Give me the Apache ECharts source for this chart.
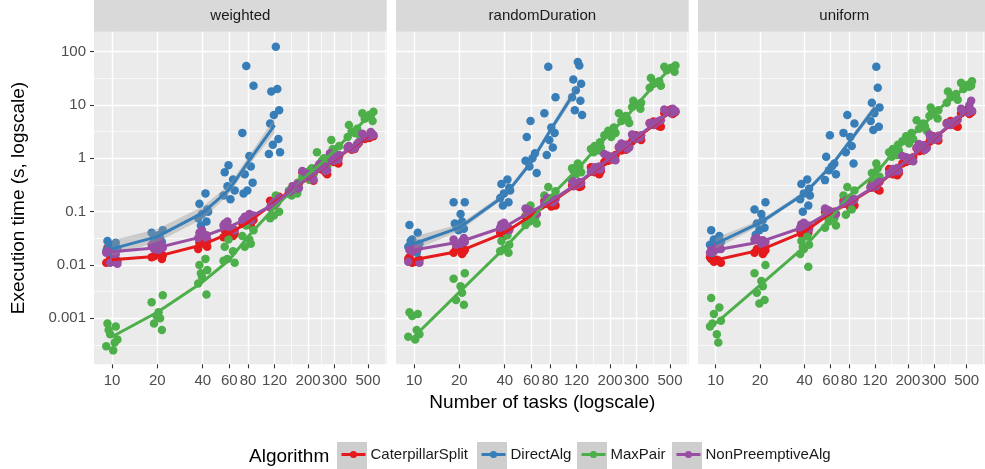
<!DOCTYPE html>
<html>
<head>
<meta charset="utf-8">
<script src="https://cdn.jsdelivr.net/npm/echarts@6/dist/echarts.min.js"></script>
<style>
html,body{margin:0;padding:0;background:#fff;}
#chart{width:985px;height:469px;}
</style>
</head>
<body>
<div id="chart"></div>
<script>
// ---------- categories / ticks ----------
const FACETS = ['weighted', 'randomDuration', 'uniform'];
const ALGOS = ['CaterpillarSplit', 'DirectAlg', 'MaxPair', 'NonPreemptiveAlg'];
const COLORS = ['#E41A1C', '#377EB8', '#4DAF4A', '#984EA3'];
const X_VALUES = [10, 20, 40, 60, 80, 120, 160, 200, 250, 300, 400, 500];
const DIRECT_X = [10, 20, 40, 60, 80, 120];
const X_TICKS = [10, 20, 40, 60, 80, 120, 200, 300, 500];
const X_MINOR = [154.9, 244.9, 387.3, 645.5];
const Y_TICKS = [0.001, 0.01, 0.1, 1, 10, 100];
const Y_TICK_LABELS = ['0.001', '0.01', '0.1', '1', '10', '100'];
const Y_MINOR = [0.000316, 0.00316, 0.0316, 0.316, 3.16, 31.6];
// fixed horizontal jitter pattern (log10 units)
const JITTER = [-0.03, 0.025, -0.012, 0.036, -0.038, 0.008, 0.018, -0.022, 0.03, -0.005];

// ---------- weighted ----------
const weighted_Caterpillar_fit = [0.0125, 0.0145, 0.024, 0.039, 0.063, 0.15, 0.27, 0.42, 0.65, 0.94, 1.67, 2.6];
const weighted_Caterpillar_pts = [
  [0.021, 0.019, 0.013, 0.012, 0.011, 0.0115, 0.013, 0.02],
  [0.015, 0.014, 0.016, 0.018, 0.0145, 0.013],
  [0.024, 0.026, 0.022, 0.028, 0.02, 0.025],
  [0.04, 0.045, 0.035, 0.05, 0.038, 0.033],
  [0.065, 0.07, 0.06, 0.08, 0.055, 0.062],
  [0.15, 0.17, 0.14, 0.19, 0.13, 0.16],
  [0.27, 0.3, 0.22, 0.33, 0.24, 0.35],
  [0.42, 0.5, 0.38, 0.55, 0.4, 0.6],
  [0.65, 0.7, 0.55, 0.75, 0.5, 0.62],
  [0.94, 1.1, 0.85, 1.2, 0.8, 1.0],
  [1.67, 1.8, 1.45, 1.95, 1.6, 1.5],
  [2.6, 2.8, 2.4, 3.0, 2.3, 2.7]
];
const weighted_Direct_fit = [0.02, 0.034, 0.095, 0.26, 0.85, 4.2];
const weighted_Direct_lo = [0.015, 0.027, 0.073, 0.215, 0.7, 3.0];
const weighted_Direct_hi = [0.029, 0.047, 0.125, 0.32, 1.05, 5.7];
const weighted_Direct_pts = [
  [0.028, 0.026, 0.024, 0.02, 0.018, 0.016, 0.014, 0.022],
  [0.045, 0.04, 0.036, 0.032, 0.03, 0.027, 0.025],
  [0.22, 0.14, 0.11, 0.09, 0.075, 0.065, 0.055, 0.1],
  [0.74, 0.55, 0.4, 0.3, 0.25, 0.2, 0.17],
  [54, 23, 3.0, 1.1, 0.7, 0.5, 0.35, 0.25, 0.22],
  [124, 20, 18, 8, 6.5, 4.5, 2.3, 1.8, 1.3, 1.2]
];
const weighted_MaxPair_fit = [0.00045, 0.0013, 0.0048, 0.0124, 0.034, 0.12, 0.26, 0.5, 0.85, 1.4, 3.2, 6.0];
const weighted_MaxPair_pts = [
  [0.0008, 0.0007, 0.0005, 0.0004, 0.0003, 0.00025, 0.00035, 0.0006],
  [0.0027, 0.002, 0.0013, 0.001, 0.0008, 0.0006, 0.0011],
  [0.013, 0.01, 0.008, 0.006, 0.0045, 0.0028, 0.007],
  [0.03, 0.022, 0.018, 0.013, 0.011, 0.012],
  [0.055, 0.045, 0.035, 0.03, 0.025, 0.022],
  [0.2, 0.15, 0.12, 0.1, 0.085, 0.075],
  [0.35, 0.3, 0.25, 0.22, 0.2, 0.28],
  [0.65, 0.55, 0.5, 0.45, 0.4, 0.6],
  [1.3, 1.0, 0.85, 0.75, 0.7, 0.9],
  [2.2, 1.7, 1.4, 1.2, 1.1, 1.5],
  [4.2, 3.6, 3.2, 2.8, 2.5, 3.0],
  [7.5, 7.0, 6.5, 6.0, 5.5, 5.0]
];
const weighted_NonPreemptive_fit = [0.0177, 0.021, 0.034, 0.052, 0.076, 0.14, 0.27, 0.43, 0.66, 0.97, 1.7, 2.75];
const weighted_NonPreemptive_pts = [
  [0.018, 0.016, 0.011, 0.0105, 0.017, 0.012],
  [0.021, 0.024, 0.019, 0.027, 0.02, 0.022],
  [0.034, 0.04, 0.03, 0.045, 0.032, 0.036],
  [0.052, 0.06, 0.048, 0.065, 0.045, 0.055],
  [0.076, 0.085, 0.07, 0.09, 0.068, 0.08],
  [0.14, 0.16, 0.13, 0.18, 0.15, 0.12],
  [0.27, 0.3, 0.23, 0.33, 0.25, 0.28],
  [0.43, 0.52, 0.4, 0.58, 0.45, 0.48],
  [0.66, 0.72, 0.58, 0.78, 0.6, 0.68],
  [0.97, 1.15, 0.9, 1.25, 0.95, 1.05],
  [1.7, 1.85, 1.5, 2.0, 1.6, 1.55],
  [2.75, 2.9, 2.6, 3.1, 2.5, 2.8]
];

// ---------- randomDuration ----------
const random_Caterpillar_fit = [0.0125, 0.018, 0.04, 0.085, 0.145, 0.32, 0.6, 1.0, 1.6, 2.4, 4.4, 7.5];
const random_Caterpillar_pts = [
  [0.014, 0.012, 0.011, 0.0125, 0.013, 0.0115],
  [0.019, 0.017, 0.021, 0.016, 0.02, 0.018],
  [0.042, 0.038, 0.046, 0.035, 0.04, 0.044],
  [0.087, 0.08, 0.095, 0.075, 0.09, 0.083],
  [0.145, 0.13, 0.16, 0.125, 0.15, 0.14],
  [0.32, 0.29, 0.36, 0.3, 0.34, 0.31],
  [0.6, 0.55, 0.68, 0.5, 0.62, 0.58],
  [1.0, 0.9, 1.15, 0.85, 1.05, 0.95],
  [1.6, 1.45, 1.8, 1.4, 1.7, 1.55],
  [2.4, 2.2, 2.7, 2.1, 2.5, 2.3],
  [4.4, 4.0, 4.9, 3.9, 4.6, 4.2],
  [7.5, 7.0, 8.3, 6.8, 7.8, 7.2]
];
const random_Direct_fit = [0.025, 0.05, 0.2, 0.85, 3.3, 20];
const random_Direct_lo = [0.019, 0.043, 0.18, 0.75, 2.9, 16];
const random_Direct_hi = [0.034, 0.058, 0.225, 0.97, 3.8, 25];
const random_Direct_pts = [
  [0.056, 0.04, 0.03, 0.025, 0.022, 0.02, 0.017, 0.028],
  [0.15, 0.15, 0.09, 0.065, 0.055, 0.048, 0.045, 0.06],
  [0.4, 0.33, 0.28, 0.22, 0.18, 0.15, 0.13, 0.25],
  [5, 2.5, 1.25, 0.7, 0.53, 0.9, 1.0],
  [52, 14, 7, 3.8, 1.6, 1.15, 3.0, 2.2],
  [64, 55, 30, 25, 19, 14, 12, 8, 6.5]
];
const random_MaxPair_fit = [0.00045, 0.0031, 0.021, 0.07, 0.19, 0.6, 1.5, 3, 5.5, 10, 25, 48];
const random_MaxPair_pts = [
  [0.0013, 0.0012, 0.0011, 0.0005, 0.00045, 0.0004, 0.0006],
  [0.007, 0.0055, 0.004, 0.003, 0.0022, 0.0018],
  [0.036, 0.028, 0.024, 0.02, 0.018, 0.017],
  [0.13, 0.09, 0.075, 0.065, 0.06, 0.056],
  [0.29, 0.24, 0.2, 0.18, 0.16, 0.15],
  [0.8, 0.7, 0.6, 0.55, 0.5, 0.65],
  [2.0, 1.7, 1.5, 1.4, 1.3, 1.6],
  [3.8, 3.3, 3.0, 2.7, 2.5, 3.1],
  [7, 6.2, 5.5, 5.0, 4.6, 5.8],
  [12, 11, 10, 9.2, 8.5, 10.5],
  [32, 28, 25, 23, 21, 26],
  [55, 52, 50, 48, 45, 42]
];
const random_NonPreemptive_fit = [0.019, 0.027, 0.052, 0.1, 0.155, 0.33, 0.62, 1.02, 1.65, 2.5, 4.6, 7.6];
const random_NonPreemptive_pts = [
  [0.019, 0.02, 0.018, 0.011, 0.0115, 0.021],
  [0.027, 0.03, 0.025, 0.028, 0.024, 0.032],
  [0.052, 0.058, 0.048, 0.062, 0.05, 0.045],
  [0.1, 0.11, 0.095, 0.105, 0.09, 0.115],
  [0.155, 0.17, 0.14, 0.16, 0.15, 0.18],
  [0.33, 0.36, 0.3, 0.35, 0.32, 0.38],
  [0.62, 0.68, 0.56, 0.7, 0.6, 0.65],
  [1.02, 1.12, 0.92, 1.2, 0.98, 1.08],
  [1.65, 1.8, 1.5, 1.9, 1.6, 1.75],
  [2.5, 2.7, 2.3, 2.8, 2.45, 2.6],
  [4.6, 5.0, 4.2, 5.2, 4.5, 4.8],
  [7.6, 8.2, 7.0, 8.5, 7.4, 7.9]
];

// ---------- uniform ----------
const uniform_Caterpillar_fit = [0.0124, 0.019, 0.042, 0.094, 0.146, 0.29, 0.56, 0.93, 1.55, 2.35, 4.5, 7.5];
const uniform_Caterpillar_pts = [
  [0.013, 0.012, 0.0115, 0.011, 0.014, 0.0125],
  [0.019, 0.017, 0.021, 0.016, 0.02, 0.018],
  [0.042, 0.038, 0.048, 0.035, 0.045, 0.04],
  [0.094, 0.085, 0.1, 0.08, 0.09, 0.098],
  [0.146, 0.13, 0.16, 0.12, 0.15, 0.14],
  [0.29, 0.26, 0.33, 0.25, 0.3, 0.28],
  [0.56, 0.5, 0.63, 0.48, 0.58, 0.53],
  [0.93, 0.85, 1.05, 0.8, 0.95, 0.9],
  [1.55, 1.4, 1.75, 1.35, 1.6, 1.5],
  [2.35, 2.15, 2.6, 2.05, 2.4, 2.25],
  [4.5, 4.1, 5.0, 3.9, 4.6, 4.3],
  [7.5, 7.0, 8.4, 6.8, 7.8, 7.2]
];
const uniform_Direct_fit = [0.025, 0.062, 0.22, 0.7, 2.0, 9];
const uniform_Direct_lo = [0.02, 0.055, 0.2, 0.63, 1.8, 7.5];
const uniform_Direct_hi = [0.032, 0.07, 0.245, 0.78, 2.25, 10.8];
const uniform_Direct_pts = [
  [0.045, 0.035, 0.03, 0.027, 0.024, 0.022, 0.02, 0.017],
  [0.15, 0.11, 0.09, 0.07, 0.06, 0.05, 0.045, 0.037],
  [0.4, 0.33, 0.27, 0.22, 0.17, 0.13, 0.1, 0.2],
  [2.7, 1.07, 0.8, 0.6, 0.5, 0.39, 0.7],
  [6.5, 4.5, 3.0, 2.5, 1.7, 1.3, 0.8],
  [52, 21, 11, 9, 7, 5, 3.9, 3.4]
];
const uniform_MaxPair_fit = [0.0008, 0.0042, 0.022, 0.075, 0.2, 0.5, 1.3, 2.3, 4.0, 6.8, 14, 22];
const uniform_MaxPair_pts = [
  [0.0024, 0.0016, 0.0012, 0.0009, 0.0007, 0.0005, 0.00035, 0.0008],
  [0.01, 0.007, 0.005, 0.004, 0.003, 0.0022, 0.0019],
  [0.034, 0.028, 0.024, 0.02, 0.016, 0.0093, 0.022],
  [0.1, 0.085, 0.075, 0.065, 0.055, 0.05],
  [0.29, 0.25, 0.2, 0.15, 0.11, 0.087],
  [0.8, 0.65, 0.53, 0.45, 0.38, 0.3],
  [1.8, 1.5, 1.3, 1.15, 1.07, 1.4],
  [3.0, 2.6, 2.3, 2.1, 1.9, 2.5],
  [5.2, 4.5, 4.0, 3.6, 3.3, 4.2],
  [9, 8, 7, 6.2, 5.6, 7.5],
  [18, 16, 14, 12.5, 11, 15],
  [28, 26, 24, 22, 20, 23]
];
const uniform_NonPreemptive_fit = [0.019, 0.027, 0.052, 0.1, 0.15, 0.3, 0.57, 0.95, 1.58, 2.4, 4.6, 7.8];
const uniform_NonPreemptive_pts = [
  [0.019, 0.021, 0.018, 0.02, 0.017, 0.022],
  [0.027, 0.03, 0.025, 0.029, 0.032, 0.026],
  [0.052, 0.058, 0.048, 0.062, 0.05, 0.055],
  [0.1, 0.11, 0.095, 0.105, 0.09, 0.115],
  [0.15, 0.17, 0.14, 0.18, 0.155, 0.16],
  [0.3, 0.34, 0.28, 0.36, 0.31, 0.29],
  [0.57, 0.63, 0.52, 0.66, 0.55, 0.6],
  [0.95, 1.05, 0.88, 1.1, 0.92, 1.0],
  [1.58, 1.75, 1.45, 1.85, 1.55, 1.65],
  [2.4, 2.65, 2.2, 2.8, 2.35, 2.5],
  [4.6, 5.0, 4.2, 5.3, 4.4, 4.8],
  [7.8, 8.5, 7.2, 10, 7.5, 12]
];

// ---------- assemble ----------
const DATA = {
  weighted: [
    {fit: weighted_Caterpillar_fit, pts: weighted_Caterpillar_pts, x: X_VALUES},
    {fit: weighted_Direct_fit, pts: weighted_Direct_pts, x: DIRECT_X, lo: weighted_Direct_lo, hi: weighted_Direct_hi},
    {fit: weighted_MaxPair_fit, pts: weighted_MaxPair_pts, x: X_VALUES},
    {fit: weighted_NonPreemptive_fit, pts: weighted_NonPreemptive_pts, x: X_VALUES}
  ],
  randomDuration: [
    {fit: random_Caterpillar_fit, pts: random_Caterpillar_pts, x: X_VALUES},
    {fit: random_Direct_fit, pts: random_Direct_pts, x: DIRECT_X, lo: random_Direct_lo, hi: random_Direct_hi},
    {fit: random_MaxPair_fit, pts: random_MaxPair_pts, x: X_VALUES},
    {fit: random_NonPreemptive_fit, pts: random_NonPreemptive_pts, x: X_VALUES}
  ],
  uniform: [
    {fit: uniform_Caterpillar_fit, pts: uniform_Caterpillar_pts, x: X_VALUES},
    {fit: uniform_Direct_fit, pts: uniform_Direct_pts, x: DIRECT_X, lo: uniform_Direct_lo, hi: uniform_Direct_hi},
    {fit: uniform_MaxPair_fit, pts: uniform_MaxPair_pts, x: X_VALUES},
    {fit: uniform_NonPreemptive_fit, pts: uniform_NonPreemptive_pts, x: X_VALUES}
  ]
};

const FONT = 'Liberation Sans, Arial, Helvetica, sans-serif';
const GRID_LEFTS = [94, 396, 698];
const GRID_W = 292.7, GRID_TOP = 31.7, GRID_H = 332.6;
const XMIN = 7.597, XMAX = 665;
const YMIN = 0.000137, YMAX = 237;

const chart = echarts.init(document.getElementById('chart'), null, {renderer: 'canvas'});

const grids = [], xAxes = [], yAxes = [], lineSeries = [], scatterSeries = [], bandSeries = [], graphics = [];

function yLabel(v) {
  const i = Y_TICKS.findIndex(t => Math.abs(Math.log10(t) - Math.log10(v)) < 1e-6);
  return i >= 0 ? Y_TICK_LABELS[i] : '';
}
function xLabel(v) {
  const i = X_TICKS.findIndex(t => Math.abs(Math.log10(t) - Math.log10(v)) < 1e-6);
  return i >= 0 ? String(X_TICKS[i]) : '';
}

FACETS.forEach((facet, fi) => {
  grids.push({left: GRID_LEFTS[fi], top: GRID_TOP, width: GRID_W, height: GRID_H,
    show: true, backgroundColor: '#EBEBEB', borderWidth: 0, containLabel: false});
  // major x
  xAxes.push({
    gridIndex: fi, type: 'log', logBase: 10, min: XMIN, max: XMAX, position: 'bottom',
    axisLine: {show: false},
    axisTick: {show: true, length: 4, inside: false, customValues: X_TICKS, lineStyle: {color: '#333333', width: 1.1}},
    axisLabel: {show: true, customValues: X_TICKS, formatter: xLabel, fontSize: 15, color: '#4D4D4D', margin: 9, fontFamily: FONT},
    splitLine: {show: true, lineStyle: {color: '#FFFFFF', width: 1.4}},
    minorTick: {show: false}, minorSplitLine: {show: false},
    name: fi === 1 ? 'Number of tasks (logscale)' : '',
    nameLocation: 'middle', nameGap: 29,
    nameTextStyle: {fontSize: 19, color: '#000000', fontFamily: FONT}
  });
  // minor x
  xAxes.push({
    gridIndex: fi, type: 'log', logBase: 10, min: XMIN, max: XMAX, position: 'top',
    axisLine: {show: false}, axisLabel: {show: false},
    axisTick: {show: false, customValues: X_MINOR},
    splitLine: {show: true, lineStyle: {color: '#FFFFFF', width: 0.7}}
  });
  // major y
  yAxes.push({
    gridIndex: fi, type: 'log', logBase: 10, min: YMIN, max: YMAX, position: 'left',
    axisLine: {show: false},
    axisTick: {show: fi === 0, length: 4, customValues: Y_TICKS, lineStyle: {color: '#333333', width: 1.1}},
    axisLabel: {show: fi === 0, customValues: Y_TICKS, formatter: yLabel, fontSize: 15, color: '#4D4D4D', margin: 8, fontFamily: FONT},
    splitLine: {show: true, lineStyle: {color: '#FFFFFF', width: 1.4}},
    name: fi === 0 ? 'Execution time (s, logscale)' : '',
    nameLocation: 'middle', nameGap: 66,
    nameTextStyle: {fontSize: 19, color: '#000000', fontFamily: FONT}
  });
  // minor y
  yAxes.push({
    gridIndex: fi, type: 'log', logBase: 10, min: YMIN, max: YMAX, position: 'right',
    axisLine: {show: false}, axisLabel: {show: false},
    axisTick: {show: false, customValues: Y_MINOR},
    splitLine: {show: true, lineStyle: {color: '#FFFFFF', width: 0.7}}
  });

  // strip
  graphics.push({type: 'rect', shape: {x: GRID_LEFTS[fi], y: 0, width: GRID_W, height: GRID_TOP},
    style: {fill: '#D9D9D9'}, z: 0, silent: true});
  graphics.push({type: 'text', x: GRID_LEFTS[fi] + GRID_W / 2, y: GRID_TOP / 2 + 0.5,
    style: {text: facet, font: '15px ' + FONT, fill: '#1A1A1A', align: 'center', verticalAlign: 'middle'}, z: 1, silent: true});

  ALGOS.forEach((algo, ai) => {
    const d = DATA[facet][ai];
    lineSeries.push({
      type: 'line', name: algo, xAxisIndex: fi * 2, yAxisIndex: fi * 2,
      data: d.x.map((x, k) => [x, d.fit[k]]),
      symbol: 'none', smooth: false, silent: true, z: 4,
      lineStyle: {color: COLORS[ai], width: 3}, itemStyle: {color: COLORS[ai]},
      animation: false
    });
    const pts = [];
    d.pts.forEach((vals, k) => {
      vals.forEach((v, j) => {
        const jit = JITTER[(j + k * 3) % JITTER.length];
        pts.push([d.x[k] * Math.pow(10, jit), v]);
      });
    });
    scatterSeries.push({
      type: 'scatter', name: algo, xAxisIndex: fi * 2, yAxisIndex: fi * 2,
      data: pts, symbol: 'circle', symbolSize: 8.5, silent: true, z: 2,
      itemStyle: {color: COLORS[ai], opacity: 1}, animation: false
    });
    if (d.lo) {
      bandSeries.push({
        type: 'custom', name: algo + ' band', xAxisIndex: fi * 2, yAxisIndex: fi * 2,
        data: d.x.map((x, k) => [x, d.lo[k], d.hi[k]]),
        encode: {x: 0, y: 1}, silent: true, z: 3, clip: true, animation: false,
        renderItem: function (params, api) {
          if (params.dataIndexInside !== 0) return null;
          const n = params.dataInsideLength;
          const up = [], lo = [];
          for (let k = 0; k < n; k++) {
            up.push(api.coord([api.value(0, k), api.value(2, k)]));
            lo.push(api.coord([api.value(0, k), api.value(1, k)]));
          }
          return {type: 'polygon', shape: {points: up.concat(lo.reverse())},
            style: {fill: 'rgba(153,153,153,0.4)', stroke: null}};
        }
      });
    }
  });
});

// legend key boxes and title
const LEG_BOX_X = [337, 477, 577, 672];
LEG_BOX_X.forEach(x => {
  graphics.push({type: 'rect', shape: {x: x, y: 442, width: 30, height: 30},
    style: {fill: '#CECECE'}, z: 0, silent: true});
});
graphics.push({type: 'text', x: 249, y: 457,
  style: {text: 'Algorithm', font: '19px ' + FONT, fill: '#000000', align: 'left', verticalAlign: 'middle'}, z: 1, silent: true});

const legends = ALGOS.map((a, i) => ({
  data: [a], left: LEG_BOX_X[i] + 3, top: 447, orient: 'horizontal',
  itemWidth: 24, itemHeight: 9, itemGap: 0, padding: 0, selectedMode: false,
  lineStyle: {width: 3},
  textStyle: {fontSize: 15, color: '#1A1A1A', fontFamily: FONT}, z: 5
}));

chart.setOption({
  animation: false,
  backgroundColor: '#FFFFFF',
  textStyle: {fontFamily: FONT},
  grid: grids,
  xAxis: xAxes,
  yAxis: yAxes,
  legend: legends,
  graphic: graphics,
  series: lineSeries.concat(scatterSeries).concat(bandSeries)
});
</script>
</body>
</html>
